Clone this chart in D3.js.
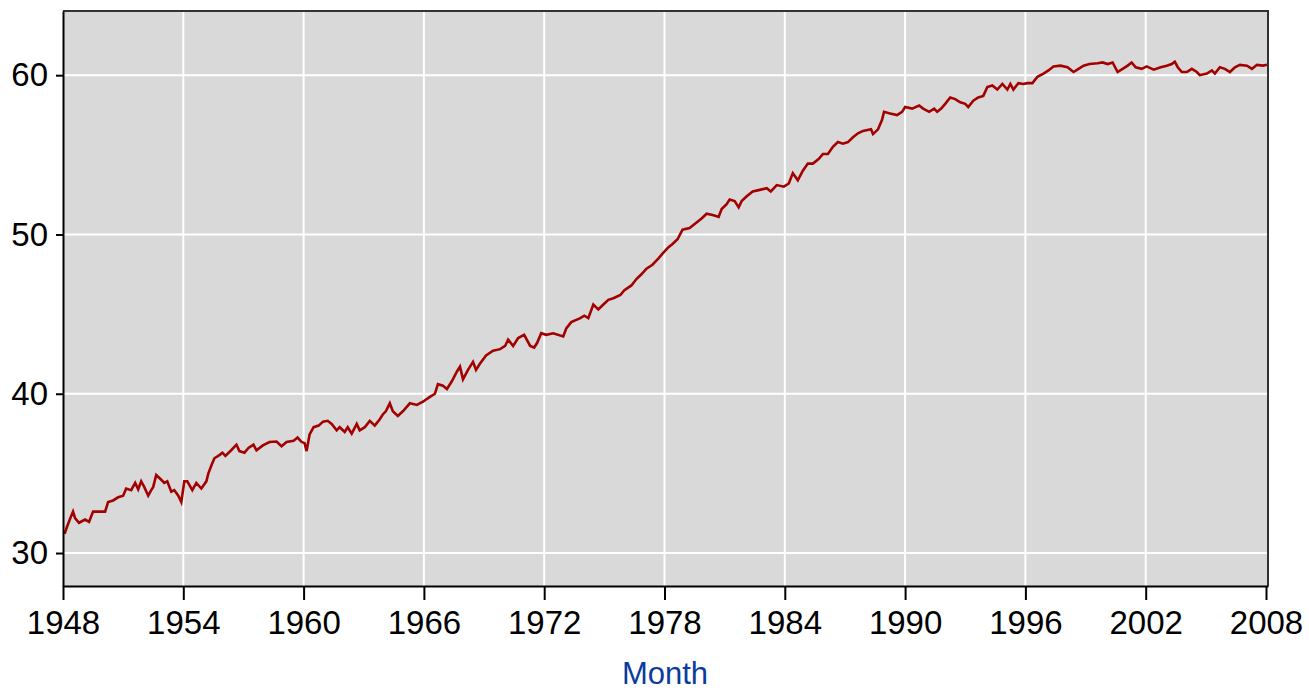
<!DOCTYPE html>
<html lang='en'>
<head>
    <title>Monthly series 1948-2008</title>
    <meta charset='UTF-8'>
    <script src='https://d3js.org/d3.v7.min.js'></script>
    <style>
      body { margin: 0; background: #fff; }
      svg text { font-family: 'Liberation Sans', Arial, sans-serif; }
    </style>
</head>
<body>
<div id='viz'></div>

<script>
  // values (decimal year, value)
  let months = [
    1948.08, 1948.2, 1948.4, 1948.5, 1948.6, 1948.8, 1949.1, 1949.3, 1949.5, 1949.75,
    1950.1, 1950.25, 1950.5, 1950.75, 1951.0, 1951.15, 1951.4, 1951.6, 1951.75, 1951.9,
    1952.05, 1952.25, 1952.4, 1952.5, 1952.65, 1952.9, 1953.05, 1953.2, 1953.4, 1953.55,
    1953.75, 1953.9, 1954.05, 1954.2, 1954.45, 1954.65, 1954.9, 1955.15, 1955.25, 1955.4,
    1955.55, 1955.8, 1955.95, 1956.1, 1956.4, 1956.65, 1956.8, 1957.05, 1957.25, 1957.5,
    1957.65, 1957.97, 1958.3, 1958.65, 1958.9, 1959.15, 1959.5, 1959.7, 1959.9, 1960.05,
    1960.15, 1960.3, 1960.5, 1960.75, 1960.97, 1961.2, 1961.4, 1961.65, 1961.8, 1962.05,
    1962.2, 1962.4, 1962.65, 1962.8, 1963.05, 1963.3, 1963.55, 1963.8, 1963.95, 1964.1,
    1964.3, 1964.45, 1964.7, 1964.95, 1965.3, 1965.65, 1965.95, 1966.3, 1966.55, 1966.7,
    1966.95, 1967.15, 1967.4, 1967.65, 1967.8, 1967.95, 1968.2, 1968.45, 1968.6, 1968.8,
    1969.1, 1969.45, 1969.8, 1970.05, 1970.2, 1970.45, 1970.7, 1971.0, 1971.3, 1971.5,
    1971.65, 1971.85, 1972.1, 1972.45, 1972.95, 1973.1, 1973.35, 1973.8, 1974.0, 1974.2,
    1974.45, 1974.7, 1974.95, 1975.2, 1975.45, 1975.8, 1976.0, 1976.35, 1976.6, 1976.85,
    1977.1, 1977.4, 1977.7, 1977.9, 1978.2, 1978.4, 1978.65, 1978.9, 1979.25, 1979.6,
    1979.85, 1980.1, 1980.45, 1980.7, 1980.85, 1981.1, 1981.25, 1981.5, 1981.7, 1981.85,
    1982.1, 1982.4, 1982.75, 1983.1, 1983.3, 1983.6, 1983.95, 1984.2, 1984.4, 1984.65,
    1984.9, 1985.15, 1985.4, 1985.7, 1985.9, 1986.15, 1986.4, 1986.65, 1986.9, 1987.15,
    1987.4, 1987.65, 1987.9, 1988.3, 1988.4, 1988.65, 1988.85, 1988.95, 1989.25, 1989.6,
    1989.85, 1990.0, 1990.35, 1990.7, 1990.9, 1991.2, 1991.45, 1991.6, 1991.8, 1992.0,
    1992.25, 1992.5, 1992.75, 1993.0, 1993.15, 1993.4, 1993.65, 1993.9, 1994.1, 1994.35,
    1994.6, 1994.85, 1995.1, 1995.25, 1995.4, 1995.65, 1995.9, 1996.1, 1996.35, 1996.6,
    1996.9, 1997.15, 1997.4, 1997.75, 1998.1, 1998.4, 1998.65, 1998.9, 1999.2, 1999.6,
    1999.85, 2000.1, 2000.35, 2000.6, 2000.85, 2001.1, 2001.3, 2001.5, 2001.8, 2002.05,
    2002.4, 2002.75, 2003.05, 2003.3, 2003.45, 2003.6, 2003.8, 2004.05, 2004.3, 2004.55,
    2004.7, 2005.05, 2005.3, 2005.45, 2005.7, 2005.95, 2006.2, 2006.45, 2006.7, 2007.05,
    2007.3, 2007.55, 2007.85, 2008.05
  ]
  let values = [
    31.2, 31.65, 32.3, 32.6, 32.2, 31.9, 32.1, 31.95, 32.6, 32.6,
    32.6, 33.2, 33.3, 33.5, 33.6, 34.05, 33.95, 34.4, 34.0, 34.5,
    34.15, 33.6, 33.95, 34.15, 34.9, 34.6, 34.4, 34.5, 33.85, 33.95,
    33.6, 33.2, 34.5, 34.5, 33.95, 34.4, 34.05, 34.5, 35.0, 35.5,
    35.95, 36.15, 36.3, 36.1, 36.47, 36.8, 36.4, 36.3, 36.6, 36.8,
    36.45, 36.76, 36.97, 37.0, 36.7, 36.97, 37.05, 37.25, 36.97, 36.9,
    36.4, 37.45, 37.9, 38.0, 38.25, 38.3, 38.1, 37.7, 37.9, 37.6,
    37.9, 37.5, 38.1, 37.7, 37.9, 38.3, 38.0, 38.4, 38.7, 38.9,
    39.4, 38.9, 38.6, 38.9, 39.4, 39.3, 39.5, 39.8, 40.0, 40.6,
    40.5, 40.3, 40.8, 41.4, 41.7, 40.9, 41.5, 42.0, 41.5, 41.9,
    42.4, 42.7, 42.8, 43.0, 43.4, 43.0, 43.5, 43.7, 43.0, 42.9,
    43.2, 43.8, 43.7, 43.8, 43.6, 44.1, 44.5, 44.75, 44.9, 44.75,
    45.6, 45.3, 45.6, 45.9, 46.0, 46.2, 46.5, 46.8, 47.2, 47.5,
    47.85, 48.1, 48.5, 48.8, 49.2, 49.4, 49.7, 50.3, 50.4, 50.75,
    51.0, 51.3, 51.2, 51.1, 51.6, 51.9, 52.2, 52.1, 51.7, 52.1,
    52.4, 52.7, 52.8, 52.9, 52.7, 53.1, 53.0, 53.2, 53.85, 53.4,
    54.0, 54.45, 54.45, 54.75, 55.05, 55.05, 55.5, 55.8, 55.7, 55.8,
    56.1, 56.35, 56.5, 56.6, 56.3, 56.6, 57.2, 57.7, 57.6, 57.5,
    57.7, 58.0, 57.9, 58.1, 57.9, 57.7, 57.9, 57.7, 57.9, 58.2,
    58.6, 58.5, 58.3, 58.2, 58.0, 58.4, 58.6, 58.7, 59.25, 59.35,
    59.1, 59.45, 59.1, 59.45, 59.1, 59.5, 59.45, 59.5, 59.5, 59.9,
    60.1, 60.3, 60.55, 60.6, 60.5, 60.2, 60.4, 60.6, 60.7, 60.75,
    60.8, 60.7, 60.8, 60.2, 60.4, 60.6, 60.8, 60.5, 60.4, 60.55,
    60.35, 60.5, 60.6, 60.7, 60.85, 60.5, 60.2, 60.2, 60.4, 60.2,
    60.0, 60.1, 60.3, 60.1, 60.5, 60.4, 60.2, 60.5, 60.65, 60.6,
    60.4, 60.65, 60.6, 60.65
  ]
  let xTicks = [1948, 1954, 1960, 1966, 1972, 1978, 1984, 1990, 1996, 2002, 2008]
  let yTicks = [30, 40, 50, 60]
  let xTitle = 'Month'

  let width = 1309, height = 691
  let plotLeft = 63, plotRight = 1268, plotTop = 11, plotBottom = 586

  let svg = d3.select('#viz').append('svg')
    .attr('width', width)
    .attr('height', height)

  let x = d3.scaleLinear().domain([1948, 2008.1]).range([plotLeft, plotRight])
  let y = d3.scaleLinear().domain([27.93, 64.03]).range([plotBottom, plotTop])

  // plot background
  svg.append('rect')
    .attr('x', plotLeft).attr('y', plotTop)
    .attr('width', plotRight - plotLeft).attr('height', plotBottom - plotTop)
    .attr('fill', '#d9d9d9')

  // grid
  svg.append('g').selectAll('line')
    .data(xTicks.slice(1, -1)).enter()
    .append('line')
      .attr('x1', d => x(d)).attr('x2', d => x(d))
      .attr('y1', plotTop).attr('y2', plotBottom)
      .attr('stroke', '#fff').attr('stroke-width', 2)

  svg.append('g').selectAll('line')
    .data(yTicks).enter()
    .append('line')
      .attr('x1', plotLeft).attr('x2', plotRight)
      .attr('y1', d => y(d)).attr('y2', d => y(d))
      .attr('stroke', '#fff').attr('stroke-width', 2)

  // series
  let series = months.map((m, i) => [m, values[i]])
  svg.append('path')
    .datum(series)
    .attr('fill', 'none')
    .attr('stroke', '#a30000')
    .attr('stroke-width', 2.6)
    .attr('d', d3.line().x(d => x(d[0])).y(d => y(d[1])))

  // frame: top and right
  svg.append('path')
    .attr('d', `M${plotLeft},${plotTop}H${plotRight}V${plotBottom}`)
    .attr('fill', 'none')
    .attr('stroke', '#333')
    .attr('stroke-width', 2)

  // axes
  let xAxis = svg.append('g')
    .attr('transform', `translate(0,${plotBottom})`)
    .call(d3.axisBottom(x).tickValues(xTicks).tickFormat(d3.format('d')).tickSize(14).tickSizeOuter(0))
  xAxis.selectAll('text')
    .attr('font-size', 33).attr('fill', '#000').attr('dy', '0.93em')

  let yAxis = svg.append('g')
    .attr('transform', `translate(${plotLeft},0)`)
    .call(d3.axisLeft(y).tickValues(yTicks).tickSize(7).tickSizeOuter(0).tickPadding(8))
  yAxis.selectAll('text')
    .attr('font-size', 33).attr('fill', '#000')

  svg.selectAll('.domain, .tick line')
    .attr('stroke', '#000').attr('stroke-width', 2)

  svg.append('text')
    .attr('x', 665).attr('y', 684)
    .attr('text-anchor', 'middle')
    .attr('font-size', 31)
    .attr('fill', '#0a3c9e')
    .text(xTitle)
</script>
</body>
</html>
